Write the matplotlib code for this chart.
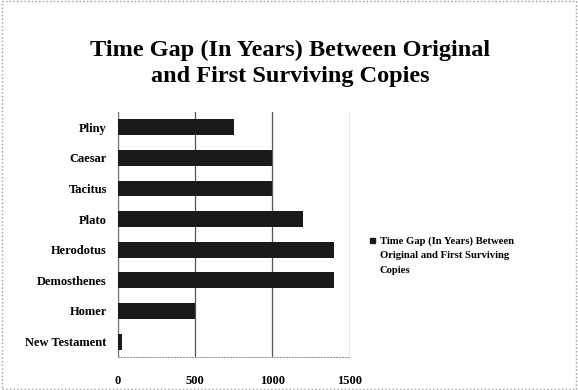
import matplotlib.pyplot as plt
import matplotlib.patches as mpatches

authors = ["New Testament", "Homer", "Demosthenes", "Herodotus", "Plato", "Tacitus", "Caesar", "Pliny"]
gap_years = [25, 500, 1400, 1400, 1200, 1000, 1000, 750]
xticks = [0, 500, 1000, 1500]
series_name = "Time Gap (In Years) Between\nOriginal and First Surviving\nCopies"

plt.rcParams['font.family'] = ['Liberation Serif', 'DejaVu Serif']

fig = plt.figure(figsize=(5.78, 3.9), dpi=100)
ax = fig.add_axes([0.204, 0.085, 0.401, 0.628])

ax.barh(authors, gap_years, height=0.52, color="#1a1a1a", zorder=3)

ax.set_xlim(0, 1500)
ax.set_ylim(-0.5, len(authors) - 0.5)
ax.set_xticks(xticks)
ax.set_xticklabels([str(t) for t in xticks], fontsize=9, fontweight="bold")
ax.tick_params(axis="y", labelsize=9, length=0, pad=8)
ax.tick_params(axis="x", length=0, pad=13)
for lab in ax.get_yticklabels():
    lab.set_fontweight("bold")

ax.grid(axis="x", color="#555555", linewidth=0.9, zorder=0)
for s in ["top", "right"]:
    ax.spines[s].set_visible(False)
ax.spines["left"].set_color("#777777")
ax.spines["bottom"].set_color("#999999")
ax.spines["bottom"].set_linestyle(":")

fig.text(0.502, 0.838, "Time Gap (In Years) Between Original\nand First Surviving Copies",
         ha="center", va="center", fontsize=17.5, fontweight="bold", linespacing=1.3)

# legend drawn by hand so the marker sits on the first line
fig.patches.append(mpatches.Rectangle((0.640, 0.378), 0.009, 0.013, transform=fig.transFigure,
                                      color="#1a1a1a"))
fig.text(0.657, 0.395, series_name, ha="left", va="top", fontsize=7.7,
         fontweight="bold", linespacing=1.8)

border = mpatches.Rectangle((0.003, 0.003), 0.994, 0.994, transform=fig.transFigure,
                            fill=False, edgecolor="#999999", linestyle=":", linewidth=1)
fig.patches.append(border)

fig.savefig("out.png", dpi=100)
